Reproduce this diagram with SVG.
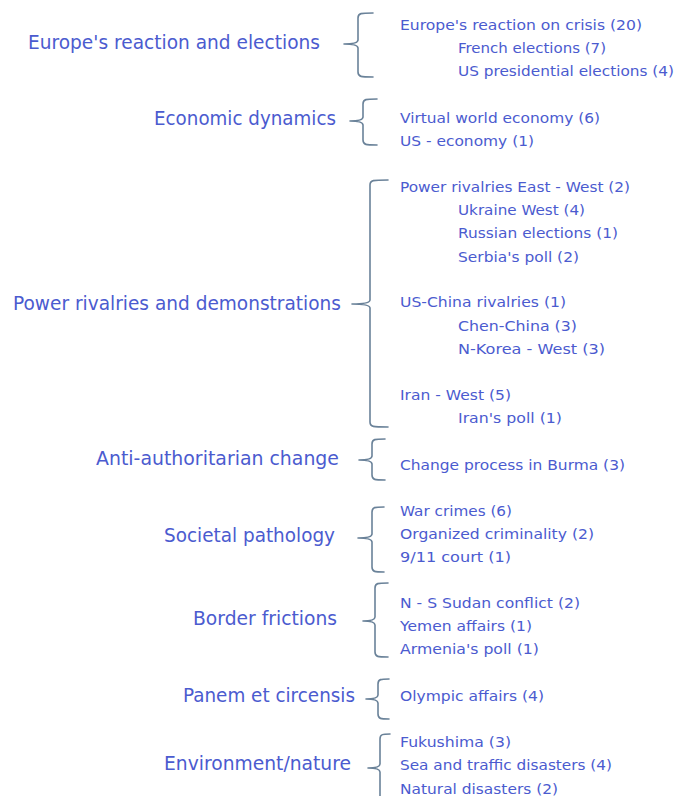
<svg xmlns="http://www.w3.org/2000/svg" width="675" height="796" viewBox="0 0 675 796">
<style>
  .bg{fill:#ffffff}
  .main{font-family:"DejaVu Sans","Liberation Sans",sans-serif;font-size:19px;fill:#4b5bcf}
  .sub{font-family:"DejaVu Sans","Liberation Sans",sans-serif;font-size:14.8px;fill:#4b5bcf}
  .br{fill:none;stroke:#6a8299;stroke-width:1.6;stroke-linecap:round;stroke-linejoin:round}
</style>
<rect class="bg" x="0" y="0" width="675" height="796"/>
<g id="connectors">
  <path class="br" d="M373,13 C361,13 358,13 358,18 L358,40 Q358,44 344,44 Q358,44 358,48 L358,72 C358,77 361,77 373,77"/>
  <path class="br" d="M377,99 C366,99 363,99 363,104 L363,117 Q363,121 350,121 Q363,121 363,125 L363,140 C363,145 366,145 377,145"/>
  <path class="br" d="M388,180 C373,180 370,180 370,185 L370,300 Q370,304 352,304 Q370,304 370,308 L370,422 C370,427 373,427 388,427"/>
  <path class="br" d="M385,439 C375,439 372,439 372,444 L372,456 Q372,460 359,460 Q372,460 372,464 L372,475 C372,480 375,480 385,480"/>
  <path class="br" d="M384,507 C375,507 372,507 372,512 L372,534 Q372,538 358,538 Q372,538 372,542 L372,567 C372,572 375,572 384,572"/>
  <path class="br" d="M388,583 C378,583 375,583 375,588 L375,617 Q375,621 363,621 Q375,621 375,625 L375,652 C375,657 378,657 388,657"/>
  <path class="br" d="M389,679 C381,679 378,679 378,684 L378,695 Q378,699 366,699 Q378,699 378,703 L378,714 C378,719 381,719 389,719"/>
  <path class="br" d="M390,734 C383,734 380,734 380,739 L380,764 Q380,768 368,768 Q380,768 380,772 L380,800"/>
</g>
<g id="europe">
  <text class="main" x="28" y="49" textLength="292" lengthAdjust="spacingAndGlyphs">Europe's reaction and elections</text>
  <text class="sub" x="400" y="29.5" textLength="242" lengthAdjust="spacingAndGlyphs">Europe's reaction on crisis (20)</text>
  <text class="sub" x="458" y="52.5" textLength="148" lengthAdjust="spacingAndGlyphs">French elections (7)</text>
  <text class="sub" x="458" y="75.5" textLength="216" lengthAdjust="spacingAndGlyphs">US presidential elections (4)</text>
</g>
<g id="economic">
  <text class="main" x="154" y="125" textLength="182" lengthAdjust="spacingAndGlyphs">Economic dynamics</text>
  <text class="sub" x="400" y="122.5" textLength="200" lengthAdjust="spacingAndGlyphs">Virtual world economy (6)</text>
  <text class="sub" x="400" y="145.5" textLength="134" lengthAdjust="spacingAndGlyphs">US - economy (1)</text>
</g>
<g id="power">
  <text class="main" x="13" y="310" textLength="328" lengthAdjust="spacingAndGlyphs">Power rivalries and demonstrations</text>
  <text class="sub" x="400" y="191.5" textLength="230" lengthAdjust="spacingAndGlyphs">Power rivalries East - West (2)</text>
  <text class="sub" x="458" y="214.5" textLength="127" lengthAdjust="spacingAndGlyphs">Ukraine West (4)</text>
  <text class="sub" x="458" y="237.5" textLength="160" lengthAdjust="spacingAndGlyphs">Russian elections (1)</text>
  <text class="sub" x="458" y="261.5" textLength="121" lengthAdjust="spacingAndGlyphs">Serbia's poll (2)</text>
  <text class="sub" x="400" y="306.5" textLength="166" lengthAdjust="spacingAndGlyphs">US-China rivalries (1)</text>
  <text class="sub" x="458" y="330.5" textLength="119" lengthAdjust="spacingAndGlyphs">Chen-China (3)</text>
  <text class="sub" x="458" y="353.5" textLength="147" lengthAdjust="spacingAndGlyphs">N-Korea - West (3)</text>
  <text class="sub" x="400" y="399.5" textLength="111" lengthAdjust="spacingAndGlyphs">Iran - West (5)</text>
  <text class="sub" x="458" y="422.5" textLength="104" lengthAdjust="spacingAndGlyphs">Iran's poll (1)</text>
</g>
<g id="anti">
  <text class="main" x="96" y="465" textLength="243" lengthAdjust="spacingAndGlyphs">Anti-authoritarian change</text>
  <text class="sub" x="400" y="469.5" textLength="225" lengthAdjust="spacingAndGlyphs">Change process in Burma (3)</text>
</g>
<g id="societal">
  <text class="main" x="164" y="542" textLength="171" lengthAdjust="spacingAndGlyphs">Societal pathology</text>
  <text class="sub" x="400" y="515.5" textLength="112" lengthAdjust="spacingAndGlyphs">War crimes (6)</text>
  <text class="sub" x="400" y="538.5" textLength="194" lengthAdjust="spacingAndGlyphs">Organized criminality (2)</text>
  <text class="sub" x="400" y="561.5" textLength="111" lengthAdjust="spacingAndGlyphs">9/11 court (1)</text>
</g>
<g id="border">
  <text class="main" x="193" y="625" textLength="144" lengthAdjust="spacingAndGlyphs">Border frictions</text>
  <text class="sub" x="400" y="607.5" textLength="180" lengthAdjust="spacingAndGlyphs">N - S Sudan conflict (2)</text>
  <text class="sub" x="400" y="630.5" textLength="132" lengthAdjust="spacingAndGlyphs">Yemen affairs (1)</text>
  <text class="sub" x="400" y="653.5" textLength="139" lengthAdjust="spacingAndGlyphs">Armenia's poll (1)</text>
</g>
<g id="panem">
  <text class="main" x="183" y="702" textLength="172" lengthAdjust="spacingAndGlyphs">Panem et circensis</text>
  <text class="sub" x="400" y="700.5" textLength="144" lengthAdjust="spacingAndGlyphs">Olympic affairs (4)</text>
</g>
<g id="environment">
  <text class="main" x="164" y="770" textLength="187" lengthAdjust="spacingAndGlyphs">Environment/nature</text>
  <text class="sub" x="400" y="746.5" textLength="111" lengthAdjust="spacingAndGlyphs">Fukushima (3)</text>
  <text class="sub" x="400" y="769.5" textLength="212" lengthAdjust="spacingAndGlyphs">Sea and traffic disasters (4)</text>
  <text class="sub" x="400" y="793.5" textLength="158" lengthAdjust="spacingAndGlyphs">Natural disasters (2)</text>
</g>
</svg>
